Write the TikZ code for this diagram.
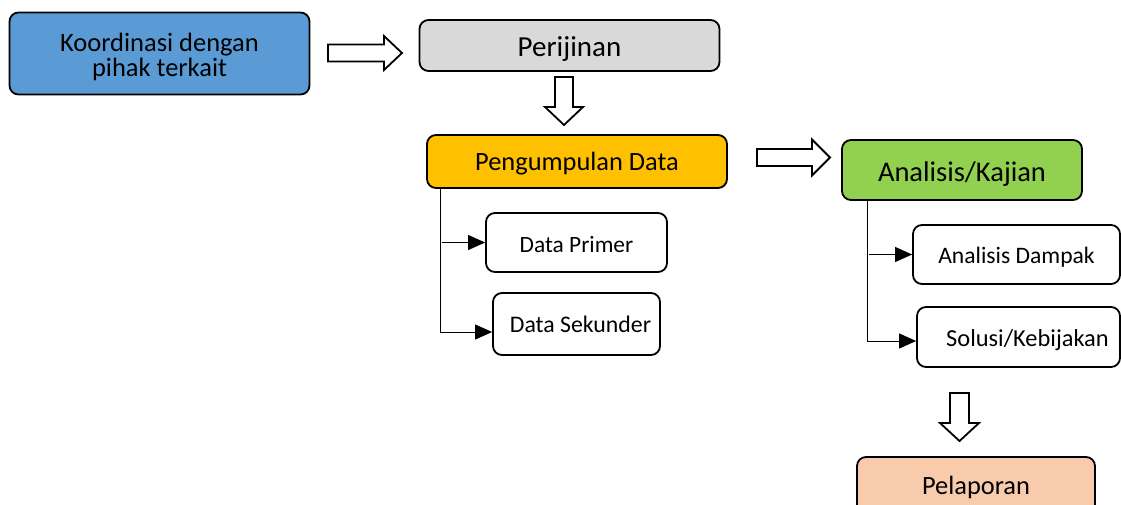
\documentclass[tikz,border=0pt]{standalone}
\usepackage{fontspec}
\setmainfont{Carlito}
\usetikzlibrary{arrows.meta,calc}
\definecolor{cblue}{HTML}{5B9BD5}
\definecolor{cgray}{HTML}{D9D9D9}
\definecolor{cgold}{HTML}{FFC000}
\definecolor{cgreen}{HTML}{92D050}
\definecolor{cpeach}{HTML}{F8CBAD}
\tikzset{
  box/.style={draw=black, line width=1.8pt, rounded corners=9pt, align=center, inner sep=0pt, fill=white, text=black},
  baseoff/.style={text height=#1, text depth=0pt},
  barrow/.style={draw=black, line width=1.8pt, fill=white, line join=miter},
  conn/.style={draw=black, line width=1pt, -{Triangle[length=17pt,width=15pt]}},
  trunk/.style={draw=black, line width=1pt}
}
\begin{document}
\begin{tikzpicture}[x=1pt,y=-1pt]
\useasboundingbox (0,0) rectangle (1121,504);
\clip (0,0) rectangle (1121,504);
\fill[white] (0,0) rectangle (1121,504);

% main boxes
\node[box, fill=cblue, minimum width=300pt, minimum height=82pt,
      font=\fontsize{26.5}{25}\selectfont] (koor) at (159.5,53.5)
      {\rule{0pt}{25pt}Koordinasi dengan\\pihak terkait};
\node[box, baseoff=21pt, fill=cgray, minimum width=300pt, minimum height=51pt,
      font=\fontsize{29}{30}\selectfont] (perij) at (569.5,45.5) {Perijinan};
\node[box, baseoff=18.5pt, fill=cgold, minimum width=300pt, minimum height=53pt,
      font=\fontsize{26.4}{28}\selectfont] (peng) at (577,161.5) {Pengumpulan Data};
\node[box, baseoff=20pt, minimum width=181pt, minimum height=59pt,
      font=\fontsize{23.4}{25}\selectfont] (dp) at (576.5,242.5) {Data Primer};
\node[box, baseoff=17.5pt, minimum width=167pt, minimum height=62pt,
      font=\fontsize{23.8}{25}\selectfont] (ds) at (576.5,324) {\hspace*{8pt}Data Sekunder};
\node[box, baseoff=23pt, fill=cgreen, minimum width=240pt, minimum height=60pt,
      font=\fontsize{28.5}{30}\selectfont] (ak) at (962,170) {Analisis/Kajian};
\node[box, baseoff=17.5pt, minimum width=207pt, minimum height=59pt,
      font=\fontsize{23.6}{25}\selectfont] (ad) at (1016.5,254.5) {Analisis Dampak};
\node[box, baseoff=18pt, minimum width=203pt, minimum height=60pt,
      font=\fontsize{24.4}{25}\selectfont] (sk) at (1018.5,337) {\hspace*{18pt}Solusi/Kebijakan};
\node[box, baseoff=12pt, fill=cpeach, minimum width=238pt, minimum height=62pt,
      font=\fontsize{26.4}{28}\selectfont] (pel) at (976,488) {Pelaporan};

% block arrows
\draw[barrow, shift={(328,53)}]
  (0,-8.5) -- (56,-8.5) -- (56,-17) -- (74,0) -- (56,17) -- (56,8.5) -- (0,8.5) -- cycle;
\draw[barrow, shift={(757,157.5)}]
  (0,-8.5) -- (55,-8.5) -- (55,-18) -- (73,0) -- (55,18) -- (55,8.5) -- (0,8.5) -- cycle;
\draw[barrow, shift={(564,77)}]
  (-9,0) -- (9,0) -- (9,30) -- (19,30) -- (0,48) -- (-19,30) -- (-9,30) -- cycle;
\draw[barrow, shift={(959.5,393)}]
  (-9.5,0) -- (9.5,0) -- (9.5,30) -- (19.5,30) -- (0,48) -- (-19.5,30) -- (-9.5,30) -- cycle;

% connector tree for Pengumpulan Data
\coordinate (pt) at ([xshift=14pt]peng.south west);
\draw[trunk] (pt) -- (pt |- 0,332);
\draw[conn] (pt |- 0,332) -- ([yshift=-8pt]ds.west);
\draw[conn] ([xshift=2pt]pt |- dp.west) -- (dp.west);

% connector tree for Analisis/Kajian
\coordinate (at) at ([xshift=26pt]ak.south west);
\draw[trunk] (at) -- (at |- 0,341);
\draw[conn] (at |- 0,341) -- ([yshift=-4pt]sk.west);
\draw[conn] ([xshift=2pt]at |- ad.west) -- (ad.west);
\end{tikzpicture}
\end{document}
